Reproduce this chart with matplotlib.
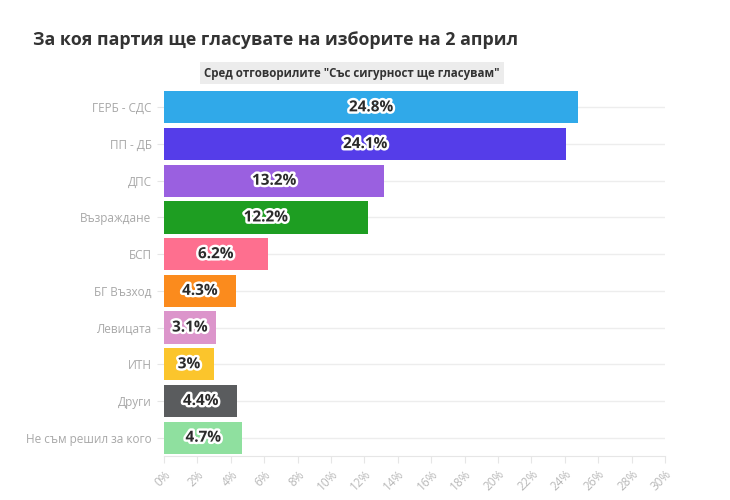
import matplotlib
matplotlib.use("Agg")
import matplotlib.pyplot as plt
import matplotlib.patheffects as pe
from matplotlib.ticker import MultipleLocator, FuncFormatter

plt.rcParams['font.family'] = ['Open Sans', 'DejaVu Sans']

parties = ["ГЕРБ - СДС", "ПП - ДБ", "ДПС", "Възраждане", "БСП", "БГ Възход",
           "Левицата", "ИТН", "Други", "Не съм решил за кого"]
values = [24.8, 24.1, 13.2, 12.2, 6.2, 4.3, 3.1, 3.0, 4.4, 4.7]
labels = ["24.8%", "24.1%", "13.2%", "12.2%", "6.2%", "4.3%", "3.1%", "3%", "4.4%", "4.7%"]
colors = ["#30a9e9", "#553de9", "#9a60e0", "#1e9e22", "#fe6f8f", "#fb8b1d",
          "#dc95cb", "#fbc52c", "#5a5c5e", "#8fe09f"]

title = "За коя партия ще гласувате на изборите на 2 април"
subtitle = 'Сред отговорилите "Със сигурност ще гласувам"'

fig = plt.figure(figsize=(7.3, 5.0), dpi=100)
ax = fig.add_axes([164/730, 1 - 456/500, (665 - 164)/730, (456 - 89)/500])

ypos = list(range(len(parties)))
ax.barh(ypos, values, height=0.88, color=colors, zorder=2)
for y, v, lab in zip(ypos, values, labels):
    ax.text(v / 2, y, lab, ha="center", va="center", fontsize=11, fontweight="bold",
            color="#2b2b2b", zorder=3,
            path_effects=[pe.withStroke(linewidth=3.5, foreground="white")])

ax.set_xlim(0, 30)
ax.set_ylim(len(parties) - 0.5, -0.5)
ax.set_yticks(ypos)
ax.set_yticklabels(parties, fontsize=8.5, color="#a8a8a8")
ax.xaxis.set_major_locator(MultipleLocator(2))
ax.xaxis.set_major_formatter(FuncFormatter(lambda x, p: f"{x:.0f}%"))
for t in ax.get_xticklabels():
    t.set_rotation(45)
    t.set_ha("right")
    t.set_rotation_mode("anchor")
ax.tick_params(axis="x", labelsize=8.5, labelcolor="#b8b8b8", color="#e6e6e6", length=5)
ax.tick_params(axis="y", color="#e6e6e6", length=5, pad=4)
ax.grid(axis="y", color="#ededed", linewidth=1, zorder=0)
for s in ["top", "right", "left"]:
    ax.spines[s].set_visible(False)
ax.spines["bottom"].set_color("#e6e6e6")

fig.text(33/730, 1 - 40/500, title, fontsize=12.8, fontweight="bold", color="#333333",
         va="center", ha="left")
fig.text(352/730, 1 - 73/500, subtitle, fontsize=8.3, fontweight="bold", color="#333333",
         va="center", ha="center",
         bbox=dict(boxstyle="square,pad=0.4", facecolor="#ececec", edgecolor="none"))

fig.savefig("out.png", dpi=100)
